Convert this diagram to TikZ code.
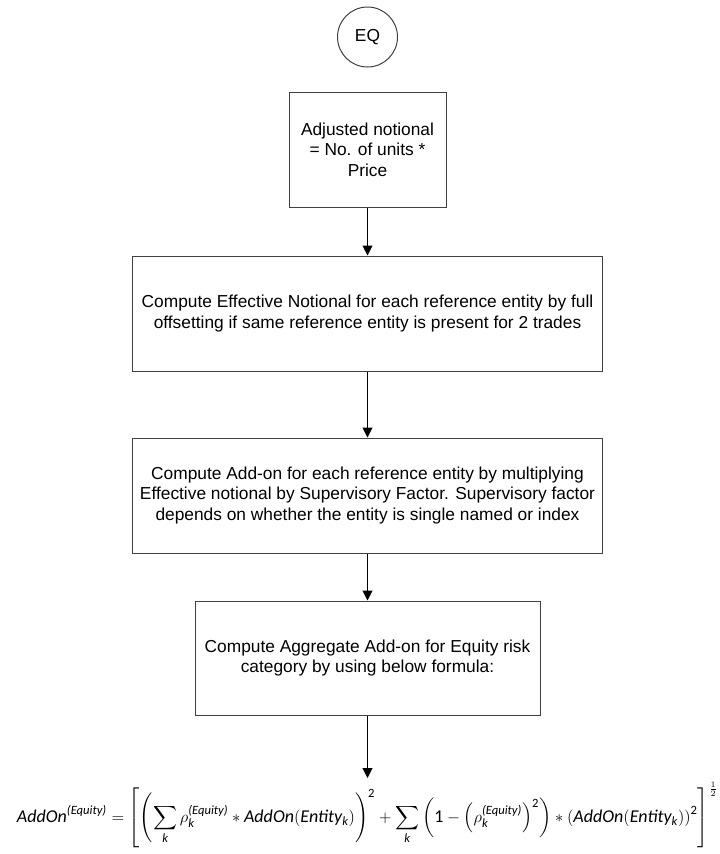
\documentclass[tikz,border=0pt]{standalone}
\usepackage{xcolor}
\usepackage{amsmath}
\usepackage{graphicx}
\usepackage{fontspec}
\setmainfont{Liberation Sans}
\newfontfamily\eqfont{Carlito}
\usepackage{tikz}
\usetikzlibrary{arrows.meta}
\definecolor{kenarGri}{HTML}{404040}
\newcommand{\eqit}[1]{\text{\eqfont\itshape #1}}
\newcommand{\eqrm}[1]{\text{\eqfont #1}}

\begin{document}
\begin{tikzpicture}[x=0.75pt,y=-0.75pt,
  every node/.style={font=\fontsize{13pt}{15.4pt}\selectfont},
  stepbox/.style={draw=kenarGri,line width=0.75pt,align=center,inner sep=0pt,minimum height=115*0.75pt},
  flowarrow/.style={draw=black,line width=0.75pt,-{Triangle[length=7.5pt,width=7.5pt]}}]
\useasboundingbox (0,0) rectangle (720,854);
% 1) start (EQ)
\node[draw=kenarGri,line width=0.75pt,circle,minimum size=60*0.75pt,inner sep=0pt] (eq) at (367.5,37) {EQ};
% 2) steps
\node[stepbox,minimum width=157*0.75pt] (adj) at (367.5,149.5) {Adjusted notional\\= No. of units *\\Price};
\node[stepbox,minimum width=470*0.75pt] (eff) at (367.5,313.5) {Compute Effective Notional for each reference entity by full\\offsetting if same reference entity is present for 2 trades};
\node[stepbox,minimum width=470*0.75pt] (addon) at (367.5,495.5) {Compute Add-on for each reference entity by multiplying\\Effective notional by Supervisory Factor. Supervisory factor\\depends on whether the entity is single named or index};
\node[stepbox,minimum width=345*0.75pt,minimum height=114*0.75pt] (agg) at (367.5,658) {Compute Aggregate Add-on for Equity risk\\category by using below formula:};
% 3) formula
\node[inner sep=0pt] (formula) at (367.5,815) {\resizebox{525.75pt}{!}{$\displaystyle
  \eqit{AddOn}^{\eqit{(Equity)}} = \left[\left(\sum_{\eqit{k}} \rho_{\eqit{k}}^{\eqit{(Equity)}} * \eqit{AddOn}\!\left(\eqit{Entity}_{\eqit{k}}\right)\right)^{\eqrm{2}}
  + \sum_{\eqit{k}}\left(\eqrm{1}-\left(\rho_{\eqit{k}}^{\eqit{(Equity)}}\right)^{\eqrm{2}}\right) * \left(\eqit{AddOn}\!\left(\eqit{Entity}_{\eqit{k}}\right)\right)^{\eqrm{2}}\right]^{\frac{1}{2}}$}};
\coordinate (fend) at (367.5,778);
% 4) arrows
\draw[flowarrow] (adj) -- (eff);
\draw[flowarrow] (eff) -- (addon);
\draw[flowarrow] (addon) -- (agg);
\draw[flowarrow] (agg) -- (fend);
\end{tikzpicture}
\end{document}
